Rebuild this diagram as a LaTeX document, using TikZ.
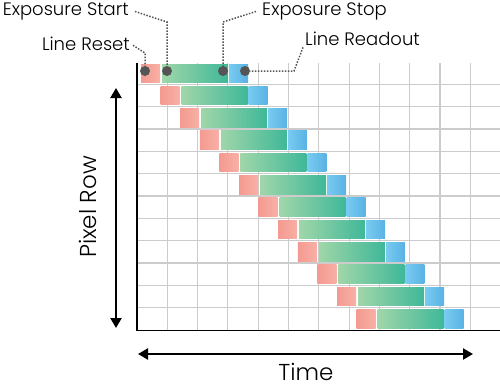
\documentclass[tikz,border=0pt]{standalone}
\usepackage{fontspec}
\setmainfont{Poppins}[UprightFont=* Light]
\usepackage{xcolor}
\usepackage{tikz}
\usetikzlibrary{arrows.meta, positioning}
\definecolor{resetL}{HTML}{F49A90}
\definecolor{resetR}{HTML}{F8B0A6}
\definecolor{exposeL}{HTML}{A0D6A9}
\definecolor{exposeR}{HTML}{3FB899}
\definecolor{readL}{HTML}{78CBF1}
\definecolor{readR}{HTML}{5AB2E4}
\definecolor{gridgray}{HTML}{CCCCCC}
\definecolor{dotgray}{HTML}{555555}
\tikzset{
    gridline/.style={draw=gridgray, line width=1.1pt},
    axisline/.style={draw=black, line width=1.4pt},
    bigarrow/.style={{Triangle[length=10pt,width=11pt]}-{Triangle[length=10pt,width=11pt]}, line width=2.2pt},
    dot/.style={circle, fill=dotgray, inner sep=0pt, minimum size=10pt},
    leader/.style={draw=dotgray, line width=1.5pt, dash pattern=on 1.5pt off 1.5pt},
    calloutlabel/.style={font=\fontsize{18}{22}\selectfont, inner sep=0pt},
    axislabel/.style={font=\fontsize{23}{26}\selectfont, inner sep=0pt},
    resetbar/.style={left color=resetL, right color=resetR},
    exposebar/.style={left color=exposeL, right color=exposeR},
    readbar/.style={left color=readL, right color=readR},
}

\begin{document}
\begin{tikzpicture}[x=1pt, y=-1pt]
    \useasboundingbox (0,0) rectangle (500,386);

    % Grid
    \foreach \k in {1,...,11}
        \draw[gridline] ({137+30.3*\k},63) -- ({137+30.3*\k},330);
    \foreach \k in {1,...,11}
        \draw[gridline] (137,{62+22.33*\k}) -- (500,{62+22.33*\k});

    % Rows: reset, exposure, readout
    \foreach \i in {0,...,11}{
        \pgfmathsetmacro{\xo}{141+19.6*\i}
        \pgfmathsetmacro{\yt}{64+22.33*\i}
        \shade[resetbar] (\xo,\yt) rectangle ++(19,18.5);
        \shade[exposebar] ({\xo+21},\yt) rectangle ++(66,18.5);
        \shade[readbar] ({\xo+88},\yt) rectangle ++(19,18.5);
    }

    % Axes
    \draw[axisline] (137,63) -- (137,330.7) -- (500,330.7);

    % Nodes
    \node[dot] (resetdot) at (145,71) {};
    \node[dot] (startdot) at (167,71) {};
    \node[dot] (stopdot) at (223,71) {};
    \node[dot] (readdot) at (245,71) {};

    \node[calloutlabel, anchor=base east] (startlbl) at (129,15.5) {Exposure Start};
    \node[calloutlabel, anchor=base east] (resetlbl) at (130,50) {Line Reset};
    \node[calloutlabel, anchor=base west] (stoplbl) at (262,15.5) {Exposure Stop};
    \node[calloutlabel, anchor=base west] (readlbl) at (305,45) {Line Readout};

    \coordinate (startbend) at (167,22);
    \coordinate (resetbend) at (145,53);
    \coordinate (stopbend) at (223,22);
    \coordinate (readbend) at (294,71);

    % Leaders
    \draw[leader] ([xshift=6pt]startlbl.east) -- (startbend) -- (startdot);
    \draw[leader] ([xshift=3pt,yshift=-2pt]resetlbl.east) -- (resetbend) -- (resetdot);
    \draw[leader] ([xshift=-6pt]stoplbl.west) -- (stopbend) -- (stopdot);
    \draw[leader] ([xshift=-2pt,yshift=-2pt]readlbl.south west) -- (readbend) -- (readdot);

    % Arrows
    \coordinate (rowtop) at (116,88);
    \coordinate (rowbot) at (116,328);
    \coordinate (timeleft) at (138,354);
    \coordinate (timeright) at (473,354);
    \draw[bigarrow] (rowbot) -- (rowtop);
    \draw[bigarrow] (timeleft) -- (timeright);

    \node[axislabel, rotate=90] (rowlbl) at (88,207) {Pixel Row};
    \node[axislabel, anchor=base, text depth=0pt] (timelbl) at (306,380) {Time};

\end{tikzpicture}
\end{document}
